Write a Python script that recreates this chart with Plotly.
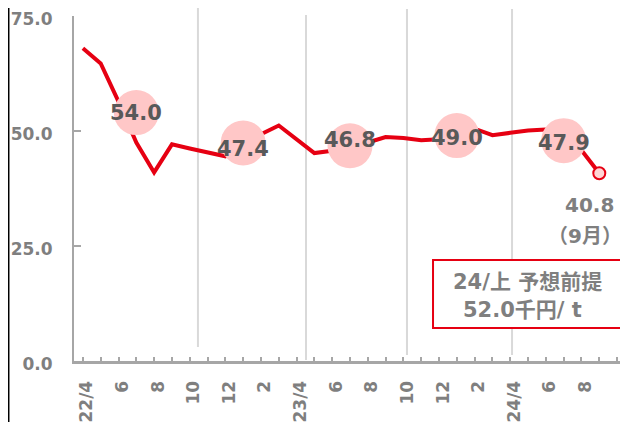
import plotly.graph_objects as go

# ---- data ----
month_labels = ["22/4", "", "6", "", "8", "", "10", "", "12", "", "2", "",
                "23/4", "", "6", "", "8", "", "10", "", "12", "", "2", "",
                "24/4", "", "6", "", "8", "", ""]
prices = [68.0, 64.7, 56.4, 47.5, 41.0, 47.1, 46.2, 45.3, 44.5,
          47.0, 49.3, 51.2, 48.1, 45.2, 45.7, 46.2, 47.5, 48.7, 48.5, 48.0, 48.2,
          49.7, 50.5, 49.1, 49.6, 50.1, 50.3, 50.8, 45.8, 40.8]
half_idx = [3, 9, 15, 21, 27]
half_avg = [54.0, 47.4, 46.8, 49.0, 47.9]
y_ticks = [0, 25, 50, 75]
last_label = "40.8"
last_month = "（9月）"
box_line1 = "24/上 予想前提"
box_line2 = "52.0千円/ t"

# ---- styles ----
RED = "#E60012"
PINK = "#FFC7C7"
GRAY = "#A6A6A6"
TXT = "#7F7F7F"
DARK = "#595959"
FONT = "DejaVu Sans, Noto Sans CJK JP"

x_idx = list(range(len(prices)))
fig = go.Figure()

fig.add_trace(go.Scatter(x=x_idx, y=prices, mode="lines",
                         line=dict(color=RED, width=4), hoverinfo="skip"))
fig.add_trace(go.Scatter(x=half_idx, y=half_avg, mode="markers",
                         marker=dict(size=45, color=PINK, line=dict(width=0)),
                         hoverinfo="skip"))
fig.add_trace(go.Scatter(x=[x_idx[-1]], y=[prices[-1]], mode="markers",
                         marker=dict(size=12, color="#FFD5D5", line=dict(color=RED, width=2)),
                         hoverinfo="skip"))

annotations = []
shifts = [0, -6, 6, -2, -2]
for xi, v, sh in zip(half_idx, half_avg, shifts):
    annotations.append(dict(x=xi, y=v, text=f"{v:.1f}", showarrow=False, yshift=sh,
                            xanchor="center", yanchor="middle",
                            font=dict(family=FONT, size=21, color=DARK, weight="bold")))
annotations.append(dict(x=x_idx[-1], y=prices[-1], text=last_label, showarrow=False,
                        xshift=-10, yshift=-32, xanchor="center", yanchor="middle",
                        font=dict(family=FONT, size=20, color=TXT, weight="bold")))
annotations.append(dict(x=x_idx[-1], y=prices[-1], text=last_month, showarrow=False,
                        xshift=-14, yshift=-63, xanchor="center", yanchor="middle",
                        font=dict(family=FONT, size=20, color=TXT, weight="bold")))
annotations.append(dict(xref="paper", yref="paper", x=0.8216, y=0.229, text=box_line1,
                        showarrow=False, xanchor="center", yanchor="middle",
                        font=dict(family=FONT, size=21, color=TXT, weight="bold")))
annotations.append(dict(xref="paper", yref="paper", x=0.8134, y=0.1478, text=box_line2,
                        showarrow=False, xanchor="center", yanchor="middle",
                        font=dict(family=FONT, size=21, color=TXT, weight="bold")))

shapes = []
# light vertical separators (decoration)
for gx, gy0, gy1 in [(6.46, 0.0406, 1.0406), (12.53, 0.003, 1.003),
                     (18.2, 0.0174, 1.02), (24.1, 0.0174, 1.02)]:
    shapes.append(dict(type="line", xref="x", yref="paper", x0=gx, x1=gx, y0=gy0, y1=gy1,
                       line=dict(color="#D9D9D9", width=2), layer="below"))
# red box
shapes.append(dict(type="rect", xref="paper", yref="paper", x0=0.6504, x1=0.9928,
                   y0=0.0957, y1=0.2928, line=dict(color=RED, width=2), fillcolor="white",
                   layer="above"))
# black left border line
shapes.append(dict(type="line", xref="paper", yref="paper", x0=-0.1187, x1=-0.1187,
                   y0=-0.2, y1=1.1, line=dict(color="black", width=2)))

# page body adds an 8px offset, so the figure is 620x414 with matching margins
fig.update_layout(
    width=620, height=414,
    margin=dict(l=66, r=2, t=8, b=61, autoexpand=False),
    plot_bgcolor="white", paper_bgcolor="white",
    showlegend=False,
    annotations=annotations,
    shapes=shapes,
    xaxis=dict(range=[-0.5, len(month_labels) - 0.5], automargin=False,
               tickmode="array", tickvals=list(range(len(month_labels))), ticktext=month_labels,
               tickangle=-90, ticks="inside", ticklen=4, tickwidth=2, tickcolor=GRAY,
               showline=True, linecolor=GRAY, linewidth=3, showgrid=False, zeroline=False,
               ticklabelstandoff=10, ticklabelshift=4, ticklabeloverflow="allow",
               tickfont=dict(family=FONT, size=17, color=TXT, weight="bold")),
    yaxis=dict(range=[0, 75], tickmode="array", tickvals=y_ticks, automargin=False,
               ticktext=[f"{t:.1f}" for t in y_ticks],
               ticks="inside", ticklen=7, tickwidth=2, tickcolor=GRAY,
               showline=True, linecolor=GRAY, linewidth=2, showgrid=False, zeroline=False,
               ticklabelstandoff=16, ticklabelshift=3, ticklabeloverflow="allow",
               tickfont=dict(family=FONT, size=17, color=TXT, weight="bold")),
)

fig.write_html("out.html")
